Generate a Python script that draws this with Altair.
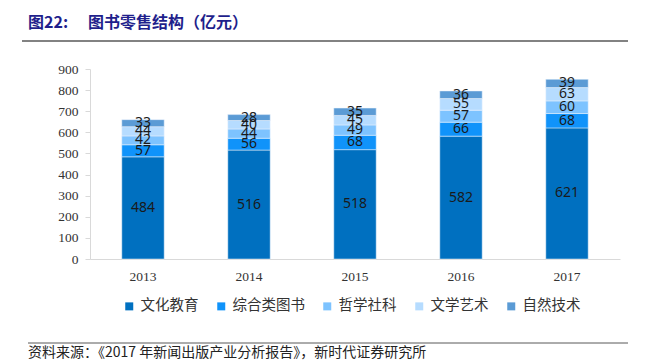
import altair as alt
import pandas as pd

years = ["2013", "2014", "2015", "2016", "2017"]
cats = ["文化教育", "综合类图书", "哲学社科", "文学艺术", "自然技术"]
colors = ["#0070c0", "#1093fa", "#7dc3ff", "#b6dcff", "#5b9bd5"]
v_wenhua = [484, 516, 518, 582, 621]
v_zonghe = [57, 56, 68, 66, 68]
v_zhexue = [42, 44, 49, 57, 60]
v_wenxue = [44, 40, 45, 55, 63]
v_ziran = [33, 28, 35, 36, 39]
y_ticks = [0, 100, 200, 300, 400, 500, 600, 700, 800, 900]

title_a = "图22:"
title_b = "图书零售结构（亿元）"
footer = "资料来源：《2017 年新闻出版产业分析报告》，新时代证券研究所"

series = [v_wenhua, v_zonghe, v_zhexue, v_wenxue, v_ziran]
rows = []
for ci, (cat, vals) in enumerate(zip(cats, series)):
    for y, v in zip(years, vals):
        rows.append({"year": y, "cat": cat, "idx": ci, "value": v})
df = pd.DataFrame(rows)

xenc = alt.X("year:N", title=None,
             scale=alt.Scale(paddingInner=0.6, paddingOuter=0.3),
             axis=alt.Axis(labelAngle=0, ticks=False, domainColor="#d9d9d9",
                           labelFont="Liberation Serif", labelFontSize=13.5,
                           labelColor="#333333", labelPadding=10))
yscale = alt.Scale(domain=[0, 900], nice=False)
yaxis = alt.Axis(values=y_ticks, grid=False, domainColor="#d9d9d9",
                 tickColor="#d9d9d9", tickSize=5, labelOverlap=False,
                 labelFont="Liberation Serif", labelFontSize=13.5,
                 labelColor="#333333", labelPadding=7)

base = alt.Chart(df)
bars = base.mark_bar(stroke="#eef5fc", strokeWidth=0.5).encode(
    x=xenc,
    y=alt.Y("value:Q", stack="zero", title=None, scale=yscale, axis=yaxis),
    color=alt.Color("cat:N", scale=alt.Scale(domain=cats, range=colors),
                    legend=alt.Legend(orient="none", legendX=32, legendY=230,
                                      direction="horizontal", title=None,
                                      symbolType="square", symbolSize=64,
                                      symbolStrokeWidth=0,
                                      labelFont="Noto Sans CJK SC", labelFontSize=14.5,
                                      labelColor="#333333", labelOffset=4,
                                      columnPadding=15)),
    order=alt.Order("idx:Q"),
)

labels = base.transform_stack(
    stack="value", groupby=["year"], sort=[alt.SortField("idx")], as_=["y0", "y1"]
).transform_calculate(mid="(datum.y0 + datum.y1) / 2").mark_text(
    font="Noto Sans", fontSize=14, color="#1a1a1a", baseline="middle"
).encode(x=xenc, y=alt.Y("mid:Q", title=None, scale=yscale, axis=yaxis),
         text="value:Q")

one = pd.DataFrame({"a": [0]})
t1 = alt.Chart(one).mark_text(text=title_a, font="Noto Sans CJK SC", fontSize=16,
                              fontWeight="bold", color="#1f1f8c", align="left",
                              baseline="middle").encode(x=alt.value(-62), y=alt.value(-46))
t2 = alt.Chart(one).mark_text(text=title_b, font="Noto Sans CJK SC", fontSize=16,
                              fontWeight="bold", color="#1f1f8c", align="left",
                              baseline="middle").encode(x=alt.value(-2), y=alt.value(-46))
r1 = alt.Chart(one).mark_rule(color="#595959", strokeWidth=1.5).encode(
    x=alt.value(-68), x2=alt.value(538), y=alt.value(-28))
r2 = alt.Chart(one).mark_rule(color="#595959", strokeWidth=1).encode(
    x=alt.value(-62), x2=alt.value(538), y=alt.value(274))
ft = alt.Chart(one).mark_text(text=footer, font="Noto Sans CJK SC", fontSize=14,
                              color="#222222", align="left",
                              baseline="middle").encode(x=alt.value(-62), y=alt.value(284))

chart = alt.layer(bars, labels, t1, t2, r1, r2, ft).properties(
    width=530, height=190,
    autosize=alt.AutoSizeParams(type="none"),
    padding={"left": 82, "top": 61, "right": 24, "bottom": 104},
).configure_view(stroke=None)

chart.save("out.html", embed_options={"renderer": "svg", "actions": False})
